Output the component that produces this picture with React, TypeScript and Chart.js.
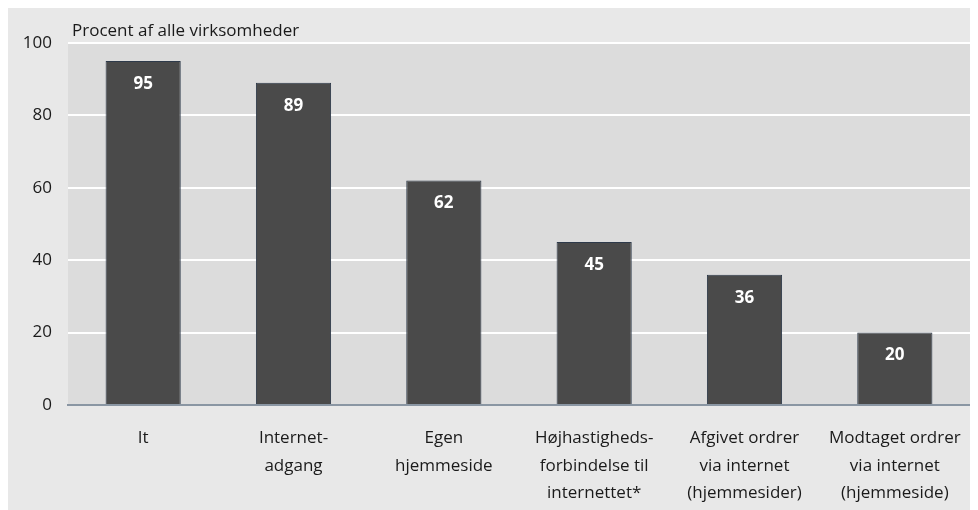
import React, { useEffect, useRef } from "react";
import { Chart, registerables } from "chart.js";
Chart.register(...registerables);

const categories: string[][] = [
  ["It"],
  ["Internet-", "adgang"],
  ["Egen", "hjemmeside"],
  ["Højhastigheds-", "forbindelse til", "internettet*"],
  ["Afgivet ordrer", "via internet", "(hjemmesider)"],
  ["Modtaget ordrer", "via internet", "(hjemmeside)"],
];
const values = [95, 89, 62, 45, 36, 20];
const yMin = 0;
const yMax = 100;
const yStep = 20;
const yTitle = "Procent af alle virksomheder";

const FONT = "'Open Sans', 'DejaVu Sans', sans-serif";

const bgPlugin = {
  id: "plotBg",
  beforeDraw(chart: any) {
    const { ctx, chartArea } = chart;
    ctx.save();
    ctx.fillStyle = "#dcdcdc";
    ctx.fillRect(chartArea.left, chartArea.top, chartArea.right - chartArea.left, chartArea.bottom - chartArea.top);
    ctx.restore();
  },
};

const valuePlugin = {
  id: "valueLabels",
  afterDatasetsDraw(chart: any) {
    const { ctx } = chart;
    const meta = chart.getDatasetMeta(0);
    ctx.save();
    ctx.fillStyle = "#ffffff";
    ctx.font = `bold 17px ${FONT}`;
    ctx.textAlign = "center";
    ctx.textBaseline = "middle";
    meta.data.forEach((bar: any, i: number) => {
      ctx.fillText(String(values[i]), bar.x, bar.y + 23);
    });
    ctx.restore();
  },
};

const titlePlugin = {
  id: "axisTitleTop",
  afterDraw(chart: any) {
    const { ctx, chartArea } = chart;
    ctx.save();
    ctx.fillStyle = "#1a1a1a";
    ctx.font = `17px ${FONT}`;
    ctx.textAlign = "left";
    ctx.textBaseline = "alphabetic";
    ctx.fillText(yTitle, chartArea.left + 4, chartArea.top - 7);
    ctx.restore();
  },
};

export default function App() {
  const ref = useRef<HTMLCanvasElement | null>(null);
  useEffect(() => {
    if (!ref.current) return;
    const chart = new Chart(ref.current, {
      type: "bar",
      data: {
        labels: categories,
        datasets: [
          {
            data: values,
            backgroundColor: "#4a4a4a",
            borderColor: "#2e3a4a",
            borderWidth: 1,
            barPercentage: 0.5,
            categoryPercentage: 1,
          },
        ],
      },
      options: {
        responsive: false,
        animation: false,
        layout: { padding: { top: 35, right: 0, left: 0, bottom: 0 } },
        plugins: { legend: { display: false }, tooltip: { enabled: false } },
        scales: {
          x: {
            grid: { display: false },
            border: { display: true, color: "#8a96a3", width: 2 },
            ticks: {
              color: "#1a1a1a",
              font: { family: FONT, size: 17, lineHeight: 1.6 },
              padding: 12,
              maxRotation: 0,
              autoSkip: false,
            },
            afterFit(scale: any) {
              scale.height = 105;
              scale.paddingLeft = 0;
              scale.paddingRight = 0;
            },
          },
          y: {
            min: yMin,
            max: yMax,
            border: { display: false },
            grid: {
              color: (c: any) => (c.tick && c.tick.value === 0 ? "rgba(0,0,0,0)" : "#ffffff"),
              lineWidth: 2,
              drawTicks: false,
            },
            ticks: {
              stepSize: yStep,
              color: "#1a1a1a",
              font: { family: FONT, size: 17 },
              padding: 16,
            },
            afterFit(scale: any) {
              scale.width = 60;
            },
          },
        },
      },
      plugins: [bgPlugin, valuePlugin, titlePlugin],
    });
    return () => chart.destroy();
  }, []);
  return (
    <div style={{ width: 962, height: 502, background: "#e8e8e8" }}>
      <canvas ref={ref} width={962} height={502} style={{ display: "block" }} />
    </div>
  );
}
